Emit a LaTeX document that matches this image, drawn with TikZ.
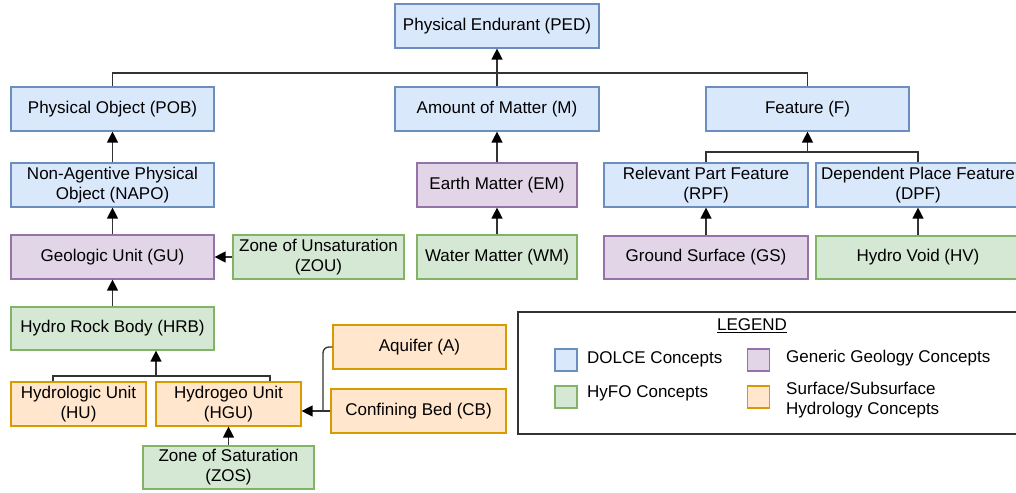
\documentclass[tikz,border=0pt]{standalone}
\usepackage{fontspec}
\setmainfont{Liberation Sans}
\usetikzlibrary{arrows.meta}
\definecolor{bfill}{HTML}{DAE8FC}\definecolor{bdraw}{HTML}{6C8EBF}
\definecolor{pfill}{HTML}{E1D5E7}\definecolor{pdraw}{HTML}{9673A6}
\definecolor{gfill}{HTML}{D5E8D4}\definecolor{gdraw}{HTML}{82B366}
\definecolor{ofill}{HTML}{FFE6CC}\definecolor{odraw}{HTML}{D79B00}
\definecolor{lin}{HTML}{333333}
\begin{document}
\begin{tikzpicture}[x=1pt,y=-1pt,
  box/.style={draw, line width=1.2pt, minimum height=44pt, inner sep=1pt, align=center,
    font=\fontsize{17}{20}\selectfont},
  bluebox/.style={box, fill=bfill, draw=bdraw},
  purplebox/.style={box, fill=pfill, draw=pdraw},
  greenbox/.style={box, fill=gfill, draw=gdraw},
  orangebox/.style={box, fill=ofill, draw=odraw},
  conn/.style={draw=lin, line width=1.3pt},
  arr/.style={conn, -{Triangle[length=11pt,width=11pt,color=black]}},
  swatch/.style={draw, line width=1.2pt, minimum width=22pt, minimum height=22pt, inner sep=0pt},
  legtext/.style={anchor=west, align=left, inner sep=0pt, font=\fontsize{17}{20}\selectfont}
]
\useasboundingbox (0,0) rectangle (1016,492);
\clip (0,0) rectangle (1016,492);
\fill[white] (0,0) rectangle (1016,492);

% nodes
\node[bluebox, minimum width=204pt] (ped) at (497,26) {Physical Endurant (PED)};
\node[bluebox, minimum width=203pt] (pob) at (112.5,109) {Physical Object (POB)};
\node[bluebox, minimum width=204pt] (m) at (497,109) {Amount of Matter (M)};
\node[bluebox, minimum width=203pt] (f) at (807.5,109) {Feature (F)};
\node[bluebox, minimum width=203pt] (napo) at (112.5,185) {Non-Agentive Physical\\Object (NAPO)};
\node[purplebox, minimum width=160pt] (em) at (497,185) {Earth Matter (EM)};
\node[bluebox, minimum width=204pt] (rpf) at (706,185) {Relevant Part Feature\\(RPF)};
\node[bluebox, minimum width=204pt] (dpf) at (918,185) {Dependent Place Feature\\(DPF)};
\node[purplebox, minimum width=203pt] (gu) at (112.5,257) {Geologic Unit (GU)};
\node[greenbox, minimum width=171pt] (zou) at (318.5,257) {Zone of Unsaturation\\(ZOU)};
\node[greenbox, minimum width=160pt] (wm) at (497,257) {Water Matter (WM)};
\node[purplebox, minimum width=204pt, minimum height=43pt] (gs) at (706,257.5) {Ground Surface (GS)};
\node[greenbox, minimum width=204pt, minimum height=43pt] (hv) at (918,257.5) {Hydro Void (HV)};
\node[greenbox, minimum width=203pt, minimum height=43pt] (hrb) at (112.5,328.5) {Hydro Rock Body (HRB)};
\node[orangebox, minimum width=135pt] (hu) at (78.5,404) {Hydrologic Unit\\(HU)};
\node[orangebox, minimum width=145pt] (hgu) at (228.5,404) {Hydrogeo Unit\\(HGU)};
\node[greenbox, minimum width=171pt, minimum height=43pt] (zos) at (228.5,467.5) {Zone of Saturation\\(ZOS)};
\node[orangebox, minimum width=173pt] (aq) at (419.5,347) {Aquifer (A)};
\node[orangebox, minimum width=175pt] (cb) at (418.5,411) {Confining Bed (CB)};

% connectors
\coordinate (bus1) at (0,73);
\draw[conn] (pob.north) |- (bus1 -| f.north) -- (f.north);
\draw[arr] (m.north) -- (ped.south);
\draw[arr] (napo) -- (pob);
\draw[arr] (em) -- (m);
\draw[arr] (wm) -- (em);
\draw[arr] (gu) -- (napo);
\draw[arr] (hrb) -- (gu);
\draw[arr] (zou) -- (gu);
\draw[arr] (gs) -- (rpf);
\draw[arr] (hv) -- (dpf);
\draw[arr] (zos) -- (hgu);
\coordinate (bus2) at (0,152);
\draw[conn] (rpf.north) |- (bus2 -| dpf.north) -- (dpf.north);
\draw[arr] (bus2 -| f.south) -- (f.south);
\coordinate (bus3) at (0,376);
\coordinate (hud) at ([xshift=-25.5pt]hu.north);
\coordinate (hgud) at ([xshift=41.5pt]hgu.north);
\coordinate (hrbu) at ([xshift=43.5pt]hrb.south);
\draw[conn] (hud) |- (bus3 -| hgud) -- (hgud);
\draw[arr] (bus3 -| hrbu) -- (hrbu);
\coordinate (jn) at (323,411);
\draw[conn, rounded corners=6pt] (aq.west) -| (jn);
\draw[arr] (cb.west) -- (cb.west -| hgu.east);

% legend
\node[draw=black!80, line width=1.4pt, minimum width=512pt, minimum height=122pt, inner sep=0pt] (leg) at (774,373) {};
\node[inner sep=0pt, font=\fontsize{17}{20}\selectfont] (legt) at (752,326) {\underline{LEGEND}};
\node[swatch, fill=bfill, draw=bdraw] (s1) at (566,360) {};
\node[swatch, fill=gfill, draw=gdraw] (s2) at (566,397) {};
\node[swatch, fill=pfill, draw=pdraw] (s3) at (758.5,360) {};
\node[swatch, fill=ofill, draw=odraw] (s4) at (758.5,397) {};
\node[legtext] (l1) at (587,359) {DOLCE Concepts};
\node[legtext] (l2) at (587,393) {HyFO Concepts};
\node[legtext] (l3) at (786,358) {Generic Geology Concepts};
\node[legtext] (l4) at (786,400) {Surface/Subsurface\\Hydrology Concepts};
\end{tikzpicture}
\end{document}
